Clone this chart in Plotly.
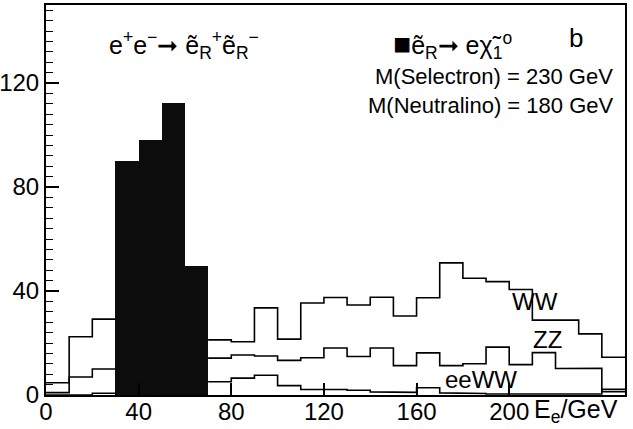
import plotly.graph_objects as go

# ---- data ----
bin_edges = list(range(0, 260, 10))          # 25 bins of 10 GeV, 0..250
signal_centers = [35, 45, 55, 65]
signal_counts = [90, 98, 112.5, 49.5]

N = None
ww = [4.7, 22.4, 29.2, N, N, N, N,
      21.2, 20.5, 33.5, 21.5, 35.4, 37.5, 34.6, 37.6, 30.4,
      37.4, 50.8, 44.9, 43.6, 40.6, 28.8, 28.8, 23.5, 14.5]
zz = [0.9, 6.9, 10.0, N, N, N, N,
      14.2, 15.4, 15.0, 13.3, 14.3, 18.1, 14.8, 18.1, 11.3,
      16.2, 11.3, 12.0, 18.4, 11.7, 16.3, 10.2, 10.3, 1.3]
eeww = [0.0, 0.0, 0.7, N, N, N, N,
        5.1, 6.5, 7.6, 3.6, 2.1, 2.1, 1.8, 1.2, 1.0,
        2.8, 0.8, 0.6, 0.4, 0.4, 0.4, 0.4, 0.4, 2.2]

x_ticks = [0, 40, 80, 120, 160, 200]
y_major = [0, 20, 40, 60, 80, 100, 120, 140]
y_labels = ["0", "", "40", "", "80", "", "120", ""]
y_minor = list(range(0, 151, 4))

FONT = "Liberation Sans Narrow, Liberation Sans, Arial, sans-serif"


def step_path(edges, vals):
    xs, ys = [], []
    for i, v in enumerate(vals):
        if v is None:
            xs.append(None)
            ys.append(None)
        else:
            xs += [edges[i], edges[i + 1]]
            ys += [v, v]
    return xs, ys


fig = go.Figure()

fig.add_trace(go.Bar(x=signal_centers, y=signal_counts, width=10,
                     marker=dict(color="#0c0c0c", line=dict(width=0)),
                     showlegend=False))

for vals in (ww, zz, eeww):
    xs, ys = step_path(bin_edges, vals)
    fig.add_trace(go.Scatter(x=xs, y=ys, mode="lines",
                             line=dict(color="black", width=1.6),
                             connectgaps=False, showlegend=False,
                             hoverinfo="skip"))

fig.update_layout(
    width=633, height=429,
    margin=dict(l=46, r=8, t=5, b=34, autoexpand=False),
    paper_bgcolor="white", plot_bgcolor="white",
    font=dict(family=FONT, color="black", size=24),
    bargap=0,
)

fig.update_xaxes(range=[0, 250], tickmode="array", tickvals=x_ticks,
                 ticks="inside", ticklen=12, tickwidth=1.5, tickcolor="black",
                 showline=True, linecolor="black", linewidth=2, mirror=True,
                 showgrid=False, zeroline=False, automargin=False,
                 ticklabelstandoff=-6,
                 tickfont=dict(family=FONT, size=24))
fig.update_yaxes(range=[0, 150], tickmode="array", tickvals=y_major,
                 ticktext=y_labels,
                 ticks="inside", ticklen=13, tickwidth=1.5, tickcolor="black",
                 minor=dict(tickmode="array", tickvals=y_minor, ticks="inside",
                            ticklen=7, tickwidth=1.2, tickcolor="black",
                            showgrid=False),
                 showline=True, linecolor="black", linewidth=2, mirror=True,
                 showgrid=False, zeroline=False, automargin=False,
                 tickfont=dict(family=FONT, size=24))

ann = [
    dict(x=26.5, y=134.5, xref="x", yref="y", xanchor="left", yanchor="middle",
         text="e<sup>+</sup>e<sup>−</sup>➞ ẽ<sub>R</sub><sup>+</sup>ẽ<sub>R</sub><sup>−</sup>",
         font=dict(size=25)),
    dict(x=149, y=134.5, xref="x", yref="y", xanchor="left", yanchor="middle",
         text="<span style='font-size:30px'>■</span>ẽ<sub>R</sub>➞ eχ̃<sub>1</sub><sup>o</sup>",
         font=dict(size=25)),
    dict(x=229, y=137.5, xref="x", yref="y", xanchor="center", yanchor="middle",
         text="b", font=dict(size=26)),
    dict(x=245.5, y=122.5, xref="x", yref="y", xanchor="right", yanchor="middle",
         text="M(Selectron) = 230 GeV", font=dict(size=22)),
    dict(x=245.5, y=111.5, xref="x", yref="y", xanchor="right", yanchor="middle",
         text="M(Neutralino) = 180 GeV", font=dict(size=22)),
    dict(x=200.5, y=36, xref="x", yref="y", xanchor="left", yanchor="middle",
         text="WW", font=dict(size=24)),
    dict(x=209.5, y=21.5, xref="x", yref="y", xanchor="left", yanchor="middle",
         text="ZZ", font=dict(size=24)),
    dict(x=171.5, y=5.8, xref="x", yref="y", xanchor="left", yanchor="middle",
         text="eeWW", font=dict(size=24)),
    dict(x=210, y=-0.04, xref="x", yref="paper", xanchor="left", yanchor="middle",
         text="E<sub>e</sub>/GeV", font=dict(size=25)),
]
for a in ann:
    a.update(showarrow=False)
fig.update_layout(annotations=ann)

fig.write_html("out.html")
